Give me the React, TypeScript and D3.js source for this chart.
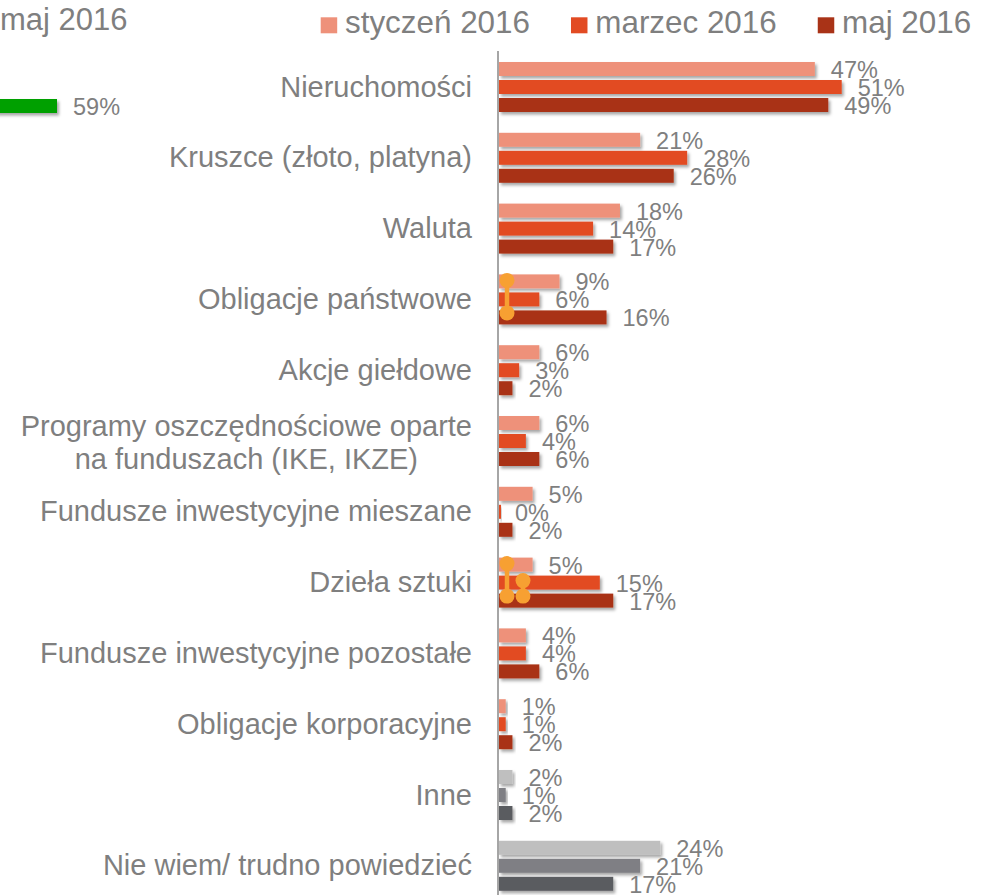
import React, { useEffect, useRef } from "react";
import * as d3 from "d3";

const categories = [
  "Nieruchomości",
  "Kruszce (złoto, platyna)",
  "Waluta",
  "Obligacje państwowe",
  "Akcje giełdowe",
  "Programy oszczędnościowe oparte\nna funduszach (IKE, IKZE)",
  "Fundusze inwestycyjne mieszane",
  "Dzieła sztuki",
  "Fundusze inwestycyjne pozostałe",
  "Obligacje korporacyjne",
  "Inne",
  "Nie wiem/ trudno powiedzieć",
];
const seriesNames = ["styczeń 2016", "marzec 2016", "maj 2016"];
const styczen = [47, 21, 18, 9, 6, 6, 5, 5, 4, 1, 2, 24];
const marzec = [51, 28, 14, 6, 3, 4, 0, 15, 4, 1, 1, 21];
const maj = [49, 26, 17, 16, 2, 6, 2, 17, 6, 2, 2, 17];
const seriesValues = [styczen, marzec, maj];
const seriesColors = ["#EE917A", "#E24B23", "#A93317"];
const grayCategories = ["Inne", "Nie wiem/ trudno powiedzieć"];
const grayColors = ["#BFBFBF", "#7F7F84", "#5A5B60"];

// partially visible neighbouring chart (left edge)
const leftLegendLabel = "maj 2016";
const leftValues = [59];
const leftColor = "#00A000";

// orange handles drawn over the chart
const handles = [
  { category: "Obligacje państwowe", column: 0, from: 0, to: 2 },
  { category: "Dzieła sztuki", column: 0, from: 0, to: 2 },
  { category: "Dzieła sztuki", column: 1, from: 1, to: 2 },
];

const W = 992;
const H = 895;
const FONT = "'Liberation Sans', Arial, Helvetica, sans-serif";
const TEXT = "#7F7F7F";

export default function App() {
  const ref = useRef<SVGSVGElement | null>(null);

  useEffect(() => {
    const svg = d3.select(ref.current);
    svg.selectAll("*").remove();

    const defs = svg.append("defs");
    const f = defs
      .append("filter")
      .attr("id", "shadow")
      .attr("x", "-10%")
      .attr("y", "-30%")
      .attr("width", "130%")
      .attr("height", "180%");
    f.append("feDropShadow")
      .attr("dx", 2)
      .attr("dy", 2.5)
      .attr("stdDeviation", 1.6)
      .attr("flood-color", "#000")
      .attr("flood-opacity", 0.35);

    const pxPer = 6.72;
    const x0 = 499;
    const x = d3.scaleLinear().domain([0, 100]).range([x0, x0 + 100 * pxPer]);

    const y = d3
      .scaleBand<string>()
      .domain(categories)
      .range([51.6, 51.6 + 70.8 * categories.length])
      .paddingInner(0)
      .paddingOuter(0);
    const sub = d3.scalePoint<number>().domain([0, 1, 2]).range([-18, 18]);
    const barH = 14;
    const yc = (c: string) => (y(c) as number) + y.bandwidth() / 2;

    // axis line
    svg
      .append("line")
      .attr("x1", x0 - 1)
      .attr("x2", x0 - 1)
      .attr("y1", 51)
      .attr("y2", H)
      .attr("stroke", "#A6A6A6")
      .attr("stroke-width", 2);

    // bars
    categories.forEach((c, ci) => {
      const isGray = grayCategories.includes(c);
      seriesValues.forEach((vals, si) => {
        const v = vals[ci];
        const cy = yc(c) + (sub(si) as number);
        svg
          .append("rect")
          .attr("x", x(0))
          .attr("y", cy - barH / 2)
          .attr("width", Math.max(x(v) - x(0), 2))
          .attr("height", barH)
          .attr("fill", isGray ? grayColors[si] : seriesColors[si])
          .attr("filter", "url(#shadow)");
      });
    });

    // value labels
    categories.forEach((c, ci) => {
      seriesValues.forEach((vals, si) => {
        const v = vals[ci];
        const cy = yc(c) + (sub(si) as number);
        svg
          .append("text")
          .attr("x", x(v) + 16)
          .attr("y", cy)
          .attr("dy", "0.38em")
          .attr("font-family", FONT)
          .attr("font-size", 23.5)
          .attr("fill", TEXT)
          .text(`${v}%`);
      });
    });

    // category labels
    categories.forEach((c) => {
      const lines = c.split("\n");
      const g = svg.append("g");
      if (lines.length === 1) {
        g.append("text")
          .attr("x", 472)
          .attr("y", yc(c))
          .attr("dy", "0.33em")
          .attr("text-anchor", "end")
          .attr("font-family", FONT)
          .attr("font-size", 29)
          .attr("fill", TEXT)
          .text(c);
      } else {
        const t0 = g
          .append("text")
          .attr("font-family", FONT)
          .attr("font-size", 29)
          .text(lines[0]);
        const w0 = (t0.node() as SVGTextElement).getComputedTextLength();
        t0.remove();
        const cx = 472 - w0 / 2;
        lines.forEach((ln, li) => {
          g.append("text")
            .attr("x", cx)
            .attr("y", yc(c) + (li - (lines.length - 1) / 2) * 33 + 2)
            .attr("dy", "0.33em")
            .attr("text-anchor", "middle")
            .attr("font-family", FONT)
            .attr("font-size", 29)
            .attr("fill", TEXT)
            .text(ln);
        });
      }
    });

    // orange handles
    const hx = (col: number) => x0 + 8 + col * 16;
    const hOff = [-1, -2, -4.5];
    handles.forEach((h) => {
      const ya = yc(h.category) + (sub(h.from) as number) + hOff[h.from];
      const yb = yc(h.category) + (sub(h.to) as number) + hOff[h.to];
      svg
        .append("line")
        .attr("x1", hx(h.column))
        .attr("x2", hx(h.column))
        .attr("y1", ya)
        .attr("y2", yb)
        .attr("stroke", "#F7A032")
        .attr("stroke-width", 4.5);
      [ya, yb].forEach((yy) =>
        svg
          .append("circle")
          .attr("cx", hx(h.column))
          .attr("cy", yy)
          .attr("r", 7.5)
          .attr("fill", "#F7A032")
      );
    });

    // legend
    let lx = 320.7;
    seriesNames.forEach((name, si) => {
      svg
        .append("rect")
        .attr("x", lx)
        .attr("y", 17.3)
        .attr("width", 16.5)
        .attr("height", 16)
        .attr("fill", seriesColors[si]);
      const t = svg
        .append("text")
        .attr("x", lx + 24.3)
        .attr("y", 33.3)
        .attr("font-family", FONT)
        .attr("font-size", 31.4)
        .attr("fill", TEXT)
        .text(name);
      const w = (t.node() as SVGTextElement).getComputedTextLength();
      lx = lx + 24.3 + w + 41;
    });

    // left neighbouring chart fragment
    svg
      .append("text")
      .attr("x", 127.5)
      .attr("y", 30)
      .attr("text-anchor", "end")
      .attr("font-family", FONT)
      .attr("font-size", 31)
      .attr("fill", TEXT)
      .text(leftLegendLabel);
    const xl = d3
      .scaleLinear()
      .domain([0, 100])
      .range([57 - 59 * pxPer, 57 - 59 * pxPer + 100 * pxPer]);
    leftValues.forEach((v) => {
      svg
        .append("rect")
        .attr("x", xl(0))
        .attr("y", 99)
        .attr("width", xl(v) - xl(0))
        .attr("height", barH)
        .attr("fill", leftColor)
        .attr("filter", "url(#shadow)");
      svg
        .append("text")
        .attr("x", xl(v) + 16)
        .attr("y", 106)
        .attr("dy", "0.38em")
        .attr("font-family", FONT)
        .attr("font-size", 23.5)
        .attr("fill", TEXT)
        .text(`${v}%`);
    });
  }, []);

  return (
    <svg
      ref={ref}
      width={W}
      height={H}
      style={{ position: "absolute", left: 0, top: 0, background: "#fff" }}
    />
  );
}
